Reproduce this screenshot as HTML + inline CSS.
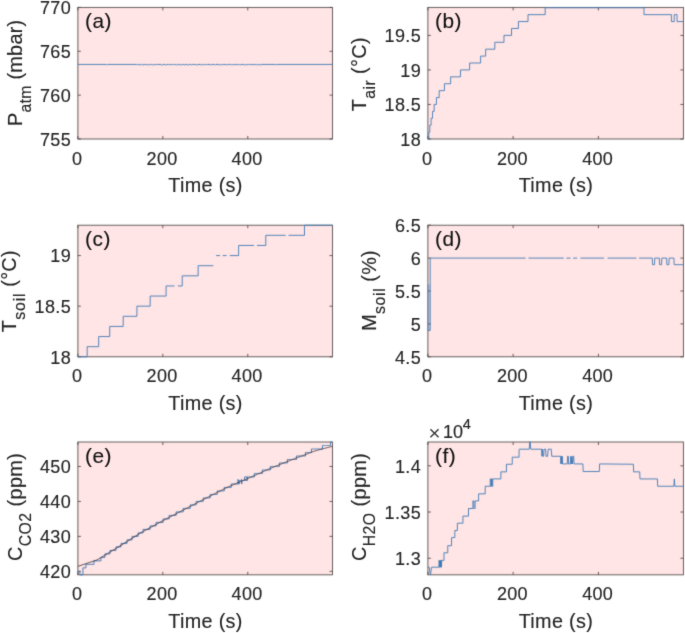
<!DOCTYPE html>
<html lang="en"><head><meta charset="utf-8"><title>Sensor time series</title>
<style>html,body{margin:0;padding:0;background:#fff;overflow:hidden}svg{display:block}text{font-family:"Liberation Sans",Arial,Helvetica,sans-serif;stroke:#262626;stroke-width:0.15px}</style>
</head><body>
<svg width="685" height="633" viewBox="0 0 685 633">
<defs>
<filter id="soft" filterUnits="userSpaceOnUse" x="0" y="0" width="685" height="633" color-interpolation-filters="sRGB"><feConvolveMatrix order="3" kernelMatrix="0.01917 0.10012 0.01917 0.10012 0.52283 0.10012 0.01917 0.10012 0.01917" divisor="1" edgeMode="duplicate" preserveAlpha="true"/></filter>
<filter id="softt" filterUnits="userSpaceOnUse" x="0" y="0" width="685" height="633" color-interpolation-filters="sRGB"><feConvolveMatrix order="3" kernelMatrix="0.01134 0.08382 0.01134 0.08382 0.61935 0.08382 0.01134 0.08382 0.01134" divisor="1" edgeMode="none" preserveAlpha="false"/></filter>
</defs>
<g filter="url(#soft)">
<rect width="685" height="633" fill="#fff"/>
<rect x="77.9" y="7.4" width="254.6" height="131.6" fill="#ffe5e5"/>
<rect x="427.9" y="7.4" width="255.5" height="131.6" fill="#ffe5e5"/>
<rect x="77.9" y="225.2" width="254.6" height="131.6" fill="#ffe5e5"/>
<rect x="427.9" y="225.2" width="255.5" height="131.6" fill="#ffe5e5"/>
<rect x="77.9" y="442" width="254.6" height="132.85" fill="#ffe5e5"/>
<rect x="427.9" y="442" width="255.5" height="132.85" fill="#ffe5e5"/>
<path d="M77.9 139 v-3 M77.9 7.4 v3 M162.84 139 v-3 M162.84 7.4 v3 M247.77 139 v-3 M247.77 7.4 v3 M77.9 139 h3 M332.5 139 h-3 M77.9 95.13 h3 M332.5 95.13 h-3 M77.9 51.27 h3 M332.5 51.27 h-3 M77.9 7.4 h3 M332.5 7.4 h-3" stroke="#4d4545" stroke-width="0.85" fill="none"/>
<rect x="77.9" y="7.4" width="254.6" height="131.6" fill="none" stroke="#4d4545" stroke-width="0.85"/>
<path d="M427.9 139 v-3 M427.9 7.4 v3 M513.14 139 v-3 M513.14 7.4 v3 M598.38 139 v-3 M598.38 7.4 v3 M427.9 139 h3 M683.4 139 h-3 M427.9 104.46 h3 M683.4 104.46 h-3 M427.9 69.92 h3 M683.4 69.92 h-3 M427.9 35.38 h3 M683.4 35.38 h-3" stroke="#4d4545" stroke-width="0.85" fill="none"/>
<rect x="427.9" y="7.4" width="255.5" height="131.6" fill="none" stroke="#4d4545" stroke-width="0.85"/>
<path d="M77.9 356.8 v-3 M77.9 225.2 v3 M162.84 356.8 v-3 M162.84 225.2 v3 M247.77 356.8 v-3 M247.77 225.2 v3 M77.9 356.8 h3 M332.5 356.8 h-3 M77.9 306.18 h3 M332.5 306.18 h-3 M77.9 255.57 h3 M332.5 255.57 h-3" stroke="#4d4545" stroke-width="0.85" fill="none"/>
<rect x="77.9" y="225.2" width="254.6" height="131.6" fill="none" stroke="#4d4545" stroke-width="0.85"/>
<path d="M427.9 356.8 v-3 M427.9 225.2 v3 M513.14 356.8 v-3 M513.14 225.2 v3 M598.38 356.8 v-3 M598.38 225.2 v3 M427.9 356.8 h3 M683.4 356.8 h-3 M427.9 323.9 h3 M683.4 323.9 h-3 M427.9 291 h3 M683.4 291 h-3 M427.9 258.1 h3 M683.4 258.1 h-3 M427.9 225.2 h3 M683.4 225.2 h-3" stroke="#4d4545" stroke-width="0.85" fill="none"/>
<rect x="427.9" y="225.2" width="255.5" height="131.6" fill="none" stroke="#4d4545" stroke-width="0.85"/>
<path d="M77.9 574.85 v-3 M77.9 442 v3 M162.84 574.85 v-3 M162.84 442 v3 M247.77 574.85 v-3 M247.77 442 v3 M77.9 571.35 h3 M332.5 571.35 h-3 M77.9 536.39 h3 M332.5 536.39 h-3 M77.9 501.43 h3 M332.5 501.43 h-3 M77.9 466.47 h3 M332.5 466.47 h-3" stroke="#4d4545" stroke-width="0.85" fill="none"/>
<rect x="77.9" y="442" width="254.6" height="132.85" fill="none" stroke="#4d4545" stroke-width="0.85"/>
<path d="M427.9 574.85 v-3 M427.9 442 v3 M513.14 574.85 v-3 M513.14 442 v3 M598.38 574.85 v-3 M598.38 442 v3 M427.9 558.22 h3 M683.4 558.22 h-3 M427.9 512.03 h3 M683.4 512.03 h-3 M427.9 465.84 h3 M683.4 465.84 h-3" stroke="#4d4545" stroke-width="0.85" fill="none"/>
<rect x="427.9" y="442" width="255.5" height="132.85" fill="none" stroke="#4d4545" stroke-width="0.85"/>
<path d="M77.9 64.43 L106.04 64.43 L106.44 64.93 L107.18 64.93 L107.58 64.43 L136.21 64.43 L136.61 64.93 L137.29 64.93 L137.69 64.43 L139.41 64.43 L139.81 64.93 L141.03 64.93 L141.43 64.43 L142.56 64.43 L142.96 64.93 L144.08 64.93 L144.48 64.43 L146.41 64.43 L146.81 64.93 L148.32 64.93 L148.72 64.43 L149.69 64.43 L150.09 64.93 L150.92 64.93 L151.32 64.43 L152.28 64.43 L152.68 64.93 L154.21 64.93 L154.61 64.43 L156.66 64.43 L157.06 64.93 L157.52 64.93 L157.92 64.43 L160.49 64.43 L160.89 64.93 L162.64 64.93 L163.04 64.43 L165.02 64.43 L165.42 64.93 L166.68 64.93 L167.08 64.43 L168.16 64.43 L168.56 64.93 L168.98 64.93 L169.38 64.43 L171.13 64.43 L171.53 64.93 L172.02 64.93 L172.42 64.43 L173.56 64.43 L173.96 64.93 L174.7 64.93 L175.1 64.43 L175.95 64.43 L176.35 64.93 L177.4 64.93 L177.8 64.43 L179.4 64.43 L179.8 64.93 L181.37 64.93 L181.77 64.43 L183.51 64.43 L183.91 64.93 L185.21 64.93 L185.61 64.43 L187.3 64.43 L187.7 64.93 L189.03 64.93 L189.43 64.43 L191.06 64.43 L191.46 64.93 L192.25 64.93 L192.65 64.43 L195.24 64.43 L195.64 64.93 L197.43 64.93 L197.83 64.43 L200.15 64.43 L200.55 64.93 L201.94 64.93 L202.34 64.43 L203.71 64.43 L204.11 64.93 L204.83 64.93 L205.23 64.43 L206.55 64.43 L206.95 64.93 L207.45 64.93 L207.85 64.43 L210.03 64.43 L210.43 64.93 L211.39 64.93 L211.79 64.43 L214.11 64.43 L214.51 64.93 L215.45 64.93 L215.85 64.43 L218.38 64.43 L218.78 64.93 L220.36 64.93 L220.76 64.43 L221.56 64.43 L221.96 64.93 L222.66 64.93 L223.06 64.43 L225.49 64.43 L225.89 64.93 L226.95 64.93 L227.35 64.43 L229.92 64.43 L230.32 64.93 L231.27 64.93 L231.67 64.43 L232.6 64.43 L233 64.93 L234.29 64.93 L234.69 64.43 L236.89 64.43 L237.29 64.93 L238.07 64.93 L238.47 64.43 L239.42 64.43 L239.82 64.93 L240.69 64.93 L241.09 64.43 L243.62 64.43 L244.02 64.93 L245.48 64.93 L245.88 64.43 L246.9 64.43 L247.3 64.93 L248.04 64.93 L248.44 64.43 L249.42 64.43 L249.82 64.93 L250.31 64.93 L250.71 64.43 L252.94 64.43 L253.34 64.93 L253.99 64.93 L254.39 64.43 L256.2 64.43 L256.6 64.93 L257.62 64.93 L258.02 64.43 L259.17 64.43 L259.57 64.93 L260.99 64.93 L261.39 64.43 L275.75 64.43 L276.15 64.93 L276.94 64.93 L277.34 64.43 L332.5 64.43" fill="none" stroke="#4079b6" stroke-width="0.9" stroke-linejoin="round" />
<path d="M427.9 139 L428.8 139 L428.8 132.09 L429.8 132.09 L429.8 125.18 L431.1 125.18 L431.1 118.28 L432.5 118.28 L432.5 111.37 L434.16 111.37 L434.16 104.46 L436.44 104.46 L436.44 97.55 L439.19 97.55 L439.19 90.64 L444.46 90.64 L444.46 83.73 L450.64 83.73 L450.64 76.83 L460.48 76.83 L460.48 69.92 L469.63 69.92 L469.63 63.01 L480.62 63.01 L480.62 56.1 L485.65 56.1 L485.65 49.19 L494.81 49.19 L494.81 42.29 L503.97 42.29 L503.97 35.38 L511.52 35.38 L511.52 28.47 L518.39 28.47 L518.39 21.56 L528 21.56 L528 14.65 L545.16 14.65 L545.16 7.75 L644 7.75 L644 14.65 L671.4 14.65 L671.4 21.56 L674.2 21.56 L674.2 14.65 L677 14.65 L677 21.56 L683.4 21.56 L683.4 21.56" fill="none" stroke="#4079b6" stroke-width="0.9" stroke-linejoin="round" />
<path d="M77.9 356.8 L87.16 356.8 L87.16 346.68 L98.66 346.68 L98.66 336.55 L109.71 336.55 L109.71 326.43 L123.2 326.43 L123.2 316.31 L136.91 316.31 L136.91 306.18 L150.17 306.18 L150.17 296.06 L166.09 296.06 L166.09 285.94 L174.49 285.94" fill="none" stroke="#4079b6" stroke-width="0.9" stroke-linejoin="round" />
<path d="M177.81 285.94 L182.23 285.94 L182.23 275.82 L198.15 275.82 L198.15 265.69 L213.4 265.69" fill="none" stroke="#4079b6" stroke-width="0.9" stroke-linejoin="round" />
<path d="M216.05 255.57 L220.03 255.57" fill="none" stroke="#4079b6" stroke-width="0.9" stroke-linejoin="round" />
<path d="M222.69 255.57 L226.67 255.57" fill="none" stroke="#4079b6" stroke-width="0.9" stroke-linejoin="round" />
<path d="M229.76 255.57 L238.61 255.57 L238.61 245.45 L254.08 245.45" fill="none" stroke="#4079b6" stroke-width="0.9" stroke-linejoin="round" />
<path d="M256.96 245.45 L265.8 245.45 L265.8 235.32 L285.7 235.32" fill="none" stroke="#4079b6" stroke-width="0.9" stroke-linejoin="round" />
<path d="M288.57 235.32 L304.49 235.32 L304.49 225.2 L332.5 225.2" fill="none" stroke="#4079b6" stroke-width="0.9" stroke-linejoin="round" />
<rect x="427.4" y="284.42" width="2.3" height="46.06" fill="#4079b6" fill-opacity="0.4"/>
<path d="M427.9 330.48 L430.2 330.48 L430.2 258.1 L525.6 258.1" fill="none" stroke="#4079b6" stroke-width="0.9" stroke-linejoin="round" />
<path d="M528.47 258.1 L563.84 258.1" fill="none" stroke="#4079b6" stroke-width="0.9" stroke-linejoin="round" />
<path d="M566.5 258.1 L570.48 258.1" fill="none" stroke="#4079b6" stroke-width="0.9" stroke-linejoin="round" />
<path d="M573.13 258.1 L577.11 258.1" fill="none" stroke="#4079b6" stroke-width="0.9" stroke-linejoin="round" />
<path d="M580.43 258.1 L604.08 258.1" fill="none" stroke="#4079b6" stroke-width="0.9" stroke-linejoin="round" />
<path d="M607.62 258.1 L636.36 258.1" fill="none" stroke="#4079b6" stroke-width="0.9" stroke-linejoin="round" />
<path d="M639.02 258.1 L652.28 258.1 L652.5 264.68 L654.49 264.68 L654.71 258.1 L659.36 258.1 L659.58 264.68 L661.57 264.68 L661.79 258.1 L666.65 258.1 L666.87 264.68 L668.86 264.68 L669.08 258.1 L673.95 258.1 L674.17 264.68 L683.4 264.68" fill="none" stroke="#4079b6" stroke-width="0.9" stroke-linejoin="round" />
<path d="M77.9 571.35 L78.9 571.35 L79.9 571.35 L79.9 574.85 L80.91 574.85 L81.91 574.85 L82.91 574.85 L82.91 567.86 L83.91 567.86 L84.92 567.86 L85.92 567.86 L85.92 564.36 L86.92 564.36 L87.92 564.36 L88.93 564.36 L89.93 564.36 L90.93 564.36 L91.93 564.36 L92.94 564.36 L93.94 564.36 L93.94 560.87 L94.94 560.87 L95.94 560.87 L96.94 560.87 L97.95 560.87 L98.95 560.87 L99.95 560.87 L100.95 560.87 L100.95 557.37 L101.96 557.37 L102.96 557.37 L103.96 557.37 L104.96 557.37 L104.96 553.87 L105.97 553.87 L106.97 553.87 L107.97 553.87 L108.97 553.87 L109.98 553.87 L109.98 550.38 L110.98 550.38 L111.98 550.38 L112.98 550.38 L113.99 550.38 L114.99 550.38 L115.99 550.38 L115.99 546.88 L116.99 546.88 L117.99 546.88 L119 546.88 L120 546.88 L121 546.88 L121 543.39 L122 543.39 L123.01 543.39 L124.01 543.39 L125.01 543.39 L126.01 543.39 L127.02 543.39 L127.02 539.89 L128.02 539.89 L129.02 539.89 L130.02 539.89 L131.03 539.89 L132.03 539.89 L132.03 536.39 L133.03 536.39 L134.03 536.39 L135.03 536.39 L136.04 536.39 L137.04 536.39 L138.04 536.39 L138.04 532.9 L139.04 532.9 L140.05 532.9 L141.05 532.9 L142.05 532.9 L143.05 532.9 L143.05 529.4 L144.06 529.4 L145.06 529.4 L146.06 529.4 L147.06 529.4 L148.07 529.4 L149.07 529.4 L150.07 529.4 L150.07 525.91 L151.07 525.91 L152.07 525.91 L153.08 525.91 L154.08 525.91 L155.08 525.91 L156.08 525.91 L156.08 522.41 L157.09 522.41 L158.09 522.41 L159.09 522.41 L160.09 522.41 L161.1 522.41 L162.1 522.41 L163.1 522.41 L163.1 518.91 L164.1 518.91 L165.11 518.91 L166.11 518.91 L167.11 518.91 L168.11 518.91 L169.11 518.91 L169.11 515.42 L170.12 515.42 L171.12 515.42 L172.12 515.42 L173.12 515.42 L174.13 515.42 L175.13 515.42 L176.13 515.42 L176.13 511.92 L177.13 511.92 L178.14 511.92 L179.14 511.92 L180.14 511.92 L181.14 511.92 L182.15 511.92 L183.15 511.92 L183.15 508.43 L184.15 508.43 L185.15 508.43 L186.16 508.43 L187.16 508.43 L188.16 508.43 L189.16 508.43 L190.16 508.43 L190.16 504.93 L191.17 504.93 L192.17 504.93 L193.17 504.93 L194.17 504.93 L195.18 504.93 L196.18 504.93 L196.18 501.43 L197.18 501.43 L198.18 501.43 L199.19 501.43 L200.19 501.43 L201.19 501.43 L202.19 501.43 L203.2 501.43 L203.2 497.94 L204.2 497.94 L205.2 497.94 L206.2 497.94 L207.2 497.94 L208.21 497.94 L209.21 497.94 L210.21 497.94 L210.21 494.44 L211.21 494.44 L212.22 494.44 L213.22 494.44 L214.22 494.44 L215.22 494.44 L216.23 494.44 L217.23 494.44 L217.23 490.94 L218.23 490.94 L219.23 490.94 L220.24 490.94 L221.24 490.94 L222.24 490.94 L223.24 490.94 L224.24 490.94 L224.24 487.45 L225.25 487.45 L226.25 487.45 L227.25 487.45 L228.25 487.45 L229.26 487.45 L230.26 487.45 L231.26 487.45 L231.26 483.95 L232.26 483.95 L233.27 483.95 L234.27 483.95 L235.27 483.95 L236.27 483.95 L237.28 483.95 L238.28 483.95 L239.28 483.95 L239.28 480.46 L240.28 480.46 L241.29 480.46 L242.29 480.46 L243.29 480.46 L244.29 480.46 L245.29 480.46 L246.3 480.46 L247.3 480.46 L247.3 476.96 L248.3 476.96 L249.3 476.96 L250.31 476.96 L251.31 476.96 L252.31 476.96 L253.31 476.96 L254.32 476.96 L254.32 473.46 L255.32 473.46 L256.32 473.46 L257.32 473.46 L258.33 473.46 L259.33 473.46 L260.33 473.46 L261.33 473.46 L262.33 473.46 L262.33 469.97 L263.34 469.97 L264.34 469.97 L265.34 469.97 L266.34 469.97 L267.35 469.97 L268.35 469.97 L269.35 469.97 L270.35 469.97 L270.35 466.47 L271.36 466.47 L272.36 466.47 L273.36 466.47 L274.36 466.47 L275.37 466.47 L276.37 466.47 L277.37 466.47 L278.37 466.47 L279.37 466.47 L279.37 462.98 L280.38 462.98 L281.38 462.98 L282.38 462.98 L283.38 462.98 L284.39 462.98 L285.39 462.98 L286.39 462.98 L287.39 462.98 L287.39 459.48 L288.4 459.48 L289.4 459.48 L290.4 459.48 L291.4 459.48 L292.41 459.48 L293.41 459.48 L294.41 459.48 L295.41 459.48 L296.41 459.48 L296.41 455.98 L297.42 455.98 L298.42 455.98 L299.42 455.98 L300.42 455.98 L301.43 455.98 L302.43 455.98 L303.43 455.98 L304.43 455.98 L305.44 455.98 L305.44 452.49 L306.44 452.49 L307.44 452.49 L308.44 452.49 L309.45 452.49 L310.45 452.49 L311.45 452.49 L311.45 448.99 L312.45 448.99 L313.46 448.99 L314.46 448.99 L315.46 448.99 L316.46 448.99 L317.46 448.99 L318.47 448.99 L319.47 448.99 L320.47 448.99 L321.47 448.99 L322.48 448.99 L322.48 445.5 L323.48 445.5 L324.48 445.5 L325.48 445.5 L326.49 445.5 L327.49 445.5 L328.49 445.5 L329.49 445.5 L330.5 445.5 L330.5 442 L331.5 442 L332.5 442" fill="none" stroke="#4079b6" stroke-width="0.95" stroke-linejoin="round" />
<path d="M238 483.95 L238 479.41 L238.6 483.95" fill="none" stroke="#4079b6" stroke-width="0.95" stroke-linejoin="round" />
<path d="M241.5 483.95 L241.5 479.41 L242.1 483.95" fill="none" stroke="#4079b6" stroke-width="0.95" stroke-linejoin="round" />
<path d="M244.6 480.46 L244.6 476.96 L247.2 476.96 L247.2 480.46" fill="none" stroke="#4079b6" stroke-width="0.95" stroke-linejoin="round" />
<path d="M77.9 566.34 L78.9 566 L79.9 565.67 L80.91 565.34 L81.91 565 L82.91 564.67 L83.91 564.33 L84.92 564 L85.92 563.66 L86.92 563.33 L87.92 562.99 L88.93 562.66 L89.93 562.32 L90.93 561.99 L91.93 561.65 L92.94 561.32 L93.94 560.99 L94.94 560.65 L95.94 560.32 L96.94 559.98 L97.95 559.42 L98.95 558.8 L99.95 558.19 L100.95 557.58 L101.96 556.97 L102.96 556.36 L103.96 555.75 L104.96 555.14 L105.97 554.52 L106.97 553.91 L107.97 553.3 L108.97 552.69 L109.98 552.08 L110.98 551.47 L111.98 550.86 L112.98 550.24 L113.99 549.63 L114.99 549.02 L115.99 548.41 L116.99 547.8 L117.99 547.18 L119 546.56 L120 545.94 L121 545.31 L122 544.68 L123.01 544.05 L124.01 543.42 L125.01 542.79 L126.01 542.16 L127.02 541.53 L128.02 540.9 L129.02 540.27 L130.02 539.63 L131.03 539 L132.03 538.37 L133.03 537.74 L134.03 537.11 L135.03 536.48 L136.04 535.84 L137.04 535.21 L138.04 534.58 L139.04 533.96 L140.05 533.34 L141.05 532.73 L142.05 532.15 L143.05 531.57 L144.06 531.01 L145.06 530.46 L146.06 529.91 L147.06 529.36 L148.07 528.81 L149.07 528.25 L150.07 527.7 L151.07 527.15 L152.07 526.6 L153.08 526.05 L154.08 525.5 L155.08 524.95 L156.08 524.4 L157.09 523.84 L158.09 523.29 L159.09 522.74 L160.09 522.19 L161.1 521.64 L162.1 521.09 L163.1 520.55 L164.1 520.02 L165.11 519.49 L166.11 518.96 L167.11 518.44 L168.11 517.92 L169.11 517.4 L170.12 516.88 L171.12 516.36 L172.12 515.84 L173.12 515.31 L174.13 514.79 L175.13 514.27 L176.13 513.75 L177.13 513.23 L178.14 512.71 L179.14 512.19 L180.14 511.67 L181.14 511.14 L182.15 510.62 L183.15 510.1 L184.15 509.58 L185.15 509.06 L186.16 508.54 L187.16 508.01 L188.16 507.49 L189.16 506.96 L190.16 506.44 L191.17 505.92 L192.17 505.39 L193.17 504.87 L194.17 504.34 L195.18 503.82 L196.18 503.3 L197.18 502.77 L198.18 502.25 L199.19 501.72 L200.19 501.2 L201.19 500.68 L202.19 500.15 L203.2 499.63 L204.2 499.11 L205.2 498.59 L206.2 498.07 L207.2 497.56 L208.21 497.05 L209.21 496.54 L210.21 496.03 L211.21 495.52 L212.22 495 L213.22 494.49 L214.22 493.98 L215.22 493.47 L216.23 492.96 L217.23 492.45 L218.23 491.94 L219.23 491.43 L220.24 490.91 L221.24 490.4 L222.24 489.89 L223.24 489.38 L224.24 488.87 L225.25 488.37 L226.25 487.88 L227.25 487.4 L228.25 486.94 L229.26 486.49 L230.26 486.06 L231.26 485.62 L232.26 485.19 L233.27 484.76 L234.27 484.33 L235.27 483.9 L236.27 483.47 L237.28 483.04 L238.28 482.61 L239.28 482.18 L240.28 481.74 L241.29 481.31 L242.29 480.88 L243.29 480.45 L244.29 480.02 L245.29 479.59 L246.3 479.16 L247.3 478.73 L248.3 478.29 L249.3 477.85 L250.31 477.41 L251.31 476.96 L252.31 476.51 L253.31 476.06 L254.32 475.61 L255.32 475.16 L256.32 474.71 L257.32 474.26 L258.33 473.8 L259.33 473.35 L260.33 472.9 L261.33 472.45 L262.33 472 L263.34 471.55 L264.34 471.1 L265.34 470.65 L266.34 470.2 L267.35 469.74 L268.35 469.29 L269.35 468.85 L270.35 468.41 L271.36 467.97 L272.36 467.55 L273.36 467.14 L274.36 466.74 L275.37 466.34 L276.37 465.94 L277.37 465.54 L278.37 465.13 L279.37 464.73 L280.38 464.33 L281.38 463.93 L282.38 463.53 L283.38 463.13 L284.39 462.73 L285.39 462.33 L286.39 461.93 L287.39 461.53 L288.4 461.13 L289.4 460.72 L290.4 460.32 L291.4 459.92 L292.41 459.53 L293.41 459.13 L294.41 458.75 L295.41 458.36 L296.41 457.98 L297.42 457.6 L298.42 457.22 L299.42 456.83 L300.42 456.45 L301.43 456.07 L302.43 455.69 L303.43 455.31 L304.43 454.93 L305.44 454.55 L306.44 454.17 L307.44 453.79 L308.44 453.41 L309.45 453.03 L310.45 452.65 L311.45 452.26 L312.45 451.89 L313.46 451.51 L314.46 451.15 L315.46 450.82 L316.46 450.51 L317.46 450.22 L318.47 449.95 L319.47 449.69 L320.47 449.42 L321.47 449.16 L322.48 448.9 L323.48 448.64 L324.48 448.38 L325.48 448.12 L326.49 447.85 L327.49 447.59 L328.49 447.33 L329.49 447.07 L330.5 446.81 L331.5 446.55 L332.5 446.29" fill="none" stroke="#35282c" stroke-width="0.8" stroke-linejoin="round" />
<path d="M427.9 567.19 L429.2 567.19 L430.4 574.85 L431.6 567.19 L438.91 567.19 L439.16 560.36 L439.49 567.19 L439.82 560.36 L440.15 567.19 L440.48 560.36 L440.81 567.19 L441.14 560.36 L441.47 567.19 L441.69 560.36 L443.97 560.36 L443.97 552.78 L447.76 552.78 L447.76 545.7 L451.56 545.7 L451.56 537.6 L454.84 537.6 L454.84 530.52 L457.37 530.52 L457.37 523.19 L462.94 523.19 L462.94 516.11 L468.5 516.11 L468.5 508.52 L472.9 508.52 L472.9 500.93 L473.91 500.93 L473.91 508.52 L475.08 508.52 L475.08 500.93 L478.62 500.93 L478.62 493.85 L485.19 493.85 L485.19 486.26 L490.25 486.26 L490.25 478.93 L490.88 478.93 L490.88 486.26 L491.51 486.26 L491.51 478.93 L492.15 478.93 L492.15 486.26 L492.78 486.26 L492.78 478.93 L500.87 478.93 L500.87 471.85 L506.44 471.85 L506.44 464.26 L512.25 464.26 L512.25 457.18 L519.08 457.18 L519.08 449.59" fill="none" stroke="#4079b6" stroke-width="0.9" stroke-linejoin="round" />
<path d="M519.08 449.19 L529.18 449.19 L529.77 441.83 L530.17 441.83 L530.76 449.19 L541.66 449.19 L541.93 456.28 L542.45 449.19 L542.85 456.28 L543.64 456.28 L544.03 449.19 L545.61 449.19 L546 456.28 L547.58 456.28 L548.23 449.19 L551.26 449.19 L551.78 456.28 L560.58 456.28 L560.85 463.91 L561.37 456.28 L561.77 463.91 L562.29 456.28 L562.56 463.91 L567.29 463.91 L567.55 456.28 L568.34 456.28 L568.6 463.91 L570.44 463.91 L570.7 456.28 L571.36 463.91 L571.88 456.28 L572.54 463.91 L573.07 456.28 L573.72 456.28 L573.99 463.91 L582.92 463.91 L583.18 471.53 L599.34 471.53 L599.61 463.91 L633.4 464.26 L633.65 471.85 L639.72 471.85 L639.98 478.93 L657.43 478.93 L657.68 486.26 L673.87 486.26 L674.37 478.93 L674.88 486.26 L683.4 486.26" fill="none" stroke="#4079b6" stroke-width="0.9" stroke-linejoin="round" />
</g>
<g filter="url(#softt)">
<text x="77.2" y="164.5" font-size="18.0" letter-spacing="0.35" text-anchor="middle" fill="#262626">0</text>
<text x="162.14" y="164.5" font-size="18.0" letter-spacing="0.35" text-anchor="middle" fill="#262626">200</text>
<text x="247.07" y="164.5" font-size="18.0" letter-spacing="0.35" text-anchor="middle" fill="#262626">400</text>
<text x="71" y="145.9" font-size="18.0" letter-spacing="0.35" text-anchor="end" fill="#262626">755</text>
<text x="71" y="102.03" font-size="18.0" letter-spacing="0.35" text-anchor="end" fill="#262626">760</text>
<text x="71" y="58.17" font-size="18.0" letter-spacing="0.35" text-anchor="end" fill="#262626">765</text>
<text x="71" y="14.3" font-size="18.0" letter-spacing="0.35" text-anchor="end" fill="#262626">770</text>
<text x="205.5" y="191.7" font-size="19.8" letter-spacing="0.35" text-anchor="middle" fill="#262626">Time (s)</text>
<text x="85.1" y="28" font-size="20.8" letter-spacing="0.5" fill="#111">(a)</text>
<text transform="translate(21.7 72.8) rotate(-90)" font-size="19.8" letter-spacing="0.3" text-anchor="middle" fill="#262626">P<tspan font-size="15.8" letter-spacing="0.3" dy="9">atm</tspan><tspan dy="-9"> (mbar)</tspan></text>
<text x="427.2" y="164.5" font-size="18.0" letter-spacing="0.35" text-anchor="middle" fill="#262626">0</text>
<text x="512.44" y="164.5" font-size="18.0" letter-spacing="0.35" text-anchor="middle" fill="#262626">200</text>
<text x="597.68" y="164.5" font-size="18.0" letter-spacing="0.35" text-anchor="middle" fill="#262626">400</text>
<text x="421" y="145.9" font-size="18.0" letter-spacing="0.35" text-anchor="end" fill="#262626">18</text>
<text x="421" y="111.36" font-size="18.0" letter-spacing="0.35" text-anchor="end" fill="#262626">18.5</text>
<text x="421" y="76.82" font-size="18.0" letter-spacing="0.35" text-anchor="end" fill="#262626">19</text>
<text x="421" y="42.28" font-size="18.0" letter-spacing="0.35" text-anchor="end" fill="#262626">19.5</text>
<text x="555.95" y="191.7" font-size="19.8" letter-spacing="0.35" text-anchor="middle" fill="#262626">Time (s)</text>
<text x="435.1" y="28" font-size="20.8" letter-spacing="0.5" fill="#111">(b)</text>
<text transform="translate(366.2 74.2) rotate(-90)" font-size="19.8" letter-spacing="0.35" text-anchor="middle" fill="#262626">T<tspan font-size="15.8" letter-spacing="0.5" dy="9">air</tspan><tspan dy="-9"> (°C)</tspan></text>
<text x="77.2" y="382.3" font-size="18.0" letter-spacing="0.35" text-anchor="middle" fill="#262626">0</text>
<text x="162.14" y="382.3" font-size="18.0" letter-spacing="0.35" text-anchor="middle" fill="#262626">200</text>
<text x="247.07" y="382.3" font-size="18.0" letter-spacing="0.35" text-anchor="middle" fill="#262626">400</text>
<text x="71" y="363.7" font-size="18.0" letter-spacing="0.35" text-anchor="end" fill="#262626">18</text>
<text x="71" y="313.08" font-size="18.0" letter-spacing="0.35" text-anchor="end" fill="#262626">18.5</text>
<text x="71" y="262.47" font-size="18.0" letter-spacing="0.35" text-anchor="end" fill="#262626">19</text>
<text x="205.5" y="409.5" font-size="19.8" letter-spacing="0.35" text-anchor="middle" fill="#262626">Time (s)</text>
<text x="85.1" y="245.8" font-size="20.8" letter-spacing="0.5" fill="#111">(c)</text>
<text transform="translate(16.1 291.2) rotate(-90)" font-size="19.8" letter-spacing="0.3" text-anchor="middle" fill="#262626">T<tspan font-size="15.8" letter-spacing="0.9" dy="9">soil</tspan><tspan dy="-9"> (°C)</tspan></text>
<text x="427.2" y="382.3" font-size="18.0" letter-spacing="0.35" text-anchor="middle" fill="#262626">0</text>
<text x="512.44" y="382.3" font-size="18.0" letter-spacing="0.35" text-anchor="middle" fill="#262626">200</text>
<text x="597.68" y="382.3" font-size="18.0" letter-spacing="0.35" text-anchor="middle" fill="#262626">400</text>
<text x="421" y="363.7" font-size="18.0" letter-spacing="0.35" text-anchor="end" fill="#262626">4.5</text>
<text x="421" y="330.8" font-size="18.0" letter-spacing="0.35" text-anchor="end" fill="#262626">5</text>
<text x="421" y="297.9" font-size="18.0" letter-spacing="0.35" text-anchor="end" fill="#262626">5.5</text>
<text x="421" y="265" font-size="18.0" letter-spacing="0.35" text-anchor="end" fill="#262626">6</text>
<text x="421" y="232.1" font-size="18.0" letter-spacing="0.35" text-anchor="end" fill="#262626">6.5</text>
<text x="555.95" y="409.5" font-size="19.8" letter-spacing="0.35" text-anchor="middle" fill="#262626">Time (s)</text>
<text x="435.1" y="245.8" font-size="20.8" letter-spacing="0.5" fill="#111">(d)</text>
<text transform="translate(376.2 290.4) rotate(-90)" font-size="19.8" letter-spacing="0.3" text-anchor="middle" fill="#262626">M<tspan font-size="15.8" letter-spacing="0.7" dy="9">soil</tspan><tspan dy="-9"> (%)</tspan></text>
<text x="77.2" y="600.35" font-size="18.0" letter-spacing="0.35" text-anchor="middle" fill="#262626">0</text>
<text x="162.14" y="600.35" font-size="18.0" letter-spacing="0.35" text-anchor="middle" fill="#262626">200</text>
<text x="247.07" y="600.35" font-size="18.0" letter-spacing="0.35" text-anchor="middle" fill="#262626">400</text>
<text x="71" y="578.25" font-size="18.0" letter-spacing="0.35" text-anchor="end" fill="#262626">420</text>
<text x="71" y="543.29" font-size="18.0" letter-spacing="0.35" text-anchor="end" fill="#262626">430</text>
<text x="71" y="508.33" font-size="18.0" letter-spacing="0.35" text-anchor="end" fill="#262626">440</text>
<text x="71" y="473.37" font-size="18.0" letter-spacing="0.35" text-anchor="end" fill="#262626">450</text>
<text x="205.5" y="627.55" font-size="19.8" letter-spacing="0.35" text-anchor="middle" fill="#262626">Time (s)</text>
<text x="85.1" y="462.6" font-size="20.8" letter-spacing="0.5" fill="#111">(e)</text>
<text transform="translate(21.8 506.93) rotate(-90)" font-size="19.8" letter-spacing="0.4" text-anchor="middle" fill="#262626">C<tspan font-size="15.8" letter-spacing="0.5" dy="9">CO2</tspan><tspan dy="-9"> (ppm)</tspan></text>
<text x="427.2" y="600.35" font-size="18.0" letter-spacing="0.35" text-anchor="middle" fill="#262626">0</text>
<text x="512.44" y="600.35" font-size="18.0" letter-spacing="0.35" text-anchor="middle" fill="#262626">200</text>
<text x="597.68" y="600.35" font-size="18.0" letter-spacing="0.35" text-anchor="middle" fill="#262626">400</text>
<text x="421" y="565.12" font-size="18.0" letter-spacing="0.35" text-anchor="end" fill="#262626">1.3</text>
<text x="421" y="518.93" font-size="18.0" letter-spacing="0.35" text-anchor="end" fill="#262626">1.35</text>
<text x="421" y="472.74" font-size="18.0" letter-spacing="0.35" text-anchor="end" fill="#262626">1.4</text>
<text x="555.95" y="627.55" font-size="19.8" letter-spacing="0.35" text-anchor="middle" fill="#262626">Time (s)</text>
<text x="435.1" y="462.6" font-size="20.8" letter-spacing="0.5" fill="#111">(f)</text>
<text transform="translate(366 506.93) rotate(-90)" font-size="19.8" letter-spacing="0.4" text-anchor="middle" fill="#262626">C<tspan font-size="15.8" letter-spacing="0.5" dy="9">H2O</tspan><tspan dy="-9"> (ppm)</tspan></text>
<text x="428.6" y="440.3" font-size="20.5" fill="#3a3a3a" style="stroke:none">×</text>
<text x="443" y="437.8" font-size="18.0" letter-spacing="0" fill="#262626">10<tspan font-size="14.6" dx="-0.3" dy="-9.3">4</tspan></text>
</g>
</svg></body></html>
